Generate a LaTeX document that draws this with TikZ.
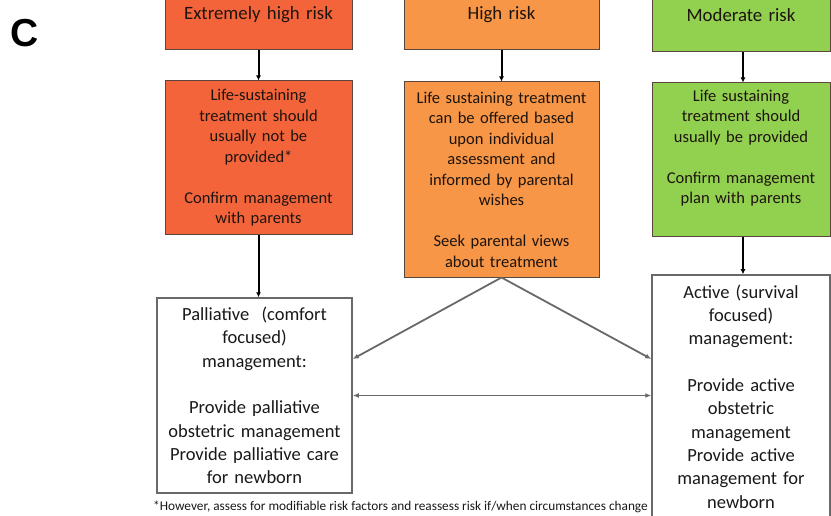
\documentclass[tikz,border=0pt]{standalone}
\usepackage{fontspec}
\setmainfont{Carlito}
\newfontfamily\helvb{Liberation Sans}
\usetikzlibrary{arrows.meta}
\definecolor{redc}{RGB}{244,100,58}
\definecolor{orgc}{RGB}{247,150,70}
\definecolor{grnc}{RGB}{146,208,80}
\definecolor{edgec}{RGB}{90,70,60}
\definecolor{greyc}{RGB}{105,105,105}
\definecolor{txtc}{RGB}{30,20,15}
\tikzset{
  cbox/.style={draw=edgec, line width=1pt, inner sep=0pt, align=center, text=txtc,
    font=\fontsize{16.5}{20.5}\selectfont},
  redbox/.style={cbox, fill=redc},
  orgbox/.style={cbox, fill=orgc},
  grnbox/.style={cbox, fill=grnc},
  headfont/.style={font=\fontsize{18.8}{22}\selectfont},
  wbox/.style={draw=greyc, line width=1.5pt, fill=white, inner sep=0pt, align=center, text=black!90,
    font=\fontsize{18.5}{23.3}\selectfont},
  darrow/.style={draw=black, line width=2pt, -{Latex[length=5pt,width=5pt]}},
  garrow/.style={draw=greyc, line width=1.8pt, -{Latex[length=6pt,width=5pt]}},
  gdarrow/.style={draw=greyc, line width=1.8pt, {Latex[length=6pt,width=5pt]}-{Latex[length=6pt,width=5pt]}},
}
\begin{document}
\begin{tikzpicture}[x=1pt,y=-1pt]
\clip (0,0) rectangle (831,516);
\fill[white] (0,0) rectangle (831,516);
\node[font=\helvb\bfseries\fontsize{39}{39}\selectfont, inner sep=0pt] (lab) at (25,33) {C};
% top row
\node[redbox, headfont, text width=187pt, minimum height=70pt] (a1) at (258.5,15) {Extremely high risk};
\node[orgbox, headfont, text width=195pt, minimum height=70pt] (b1) at (501.5,15) {High risk};
\node[grnbox, headfont, text width=178pt, minimum height=74pt] (c1) at (741,15) {Moderate risk};
% second row
\node[redbox, text width=187pt, minimum height=154pt] (a2) at (258.5,158)
  {Life-sustaining\\treatment should\\usually not be\\provided*\\[20.5pt]Confirm management\\with parents};
\node[orgbox, text width=195pt, minimum height=195pt] (b2) at (501.5,179.5)
  {Life sustaining treatment\\can be offered based\\upon individual\\assessment and\\informed by parental\\wishes\\[20.5pt]Seek parental views\\about treatment};
\node[grnbox, text width=178pt, minimum height=154pt] (c2) at (741,160)
  {Life sustaining\\treatment should\\usually be provided\\[20.5pt]Confirm management\\plan with parents\\\strut};
% bottom row
\node[wbox, text width=195pt, minimum height=195pt] (pall) at (254.5,395.5)
  {Palliative\ \ (comfort\\focused)\\management:\\[23.3pt]Provide palliative\\obstetric management\\Provide palliative care\\for newborn};
\node[wbox, text width=178pt, minimum height=243pt] (act) at (741,396.5)
  {Active (survival\\focused)\\management:\\[23.3pt]Provide active\\obstetric\\management\\Provide active\\management for\\newborn};
\node[font=\fontsize{13.3}{15}\selectfont, inner sep=0pt, text=black!90] (note) at (400.5,507)
  {*However, assess for modifiable risk factors and reassess risk if/when circumstances change};
% connectors
\draw[darrow] (a1.south) -- (a2.north);
\draw[darrow] (b1.south) -- (b2.north);
\draw[darrow] ([xshift=2pt]c1.south) -- ([xshift=2pt]c2.north);
\draw[darrow] (a2.south) -- (a2.south |- pall.north);
\draw[darrow] ([xshift=2pt]c2.south) -- ([xshift=2pt]act.north);
\draw[garrow] (b2.south) -- ([yshift=36.5pt]pall.east);
\draw[garrow] (b2.south) -- ([yshift=37.5pt]act.west);
\draw[gdarrow] (pall.east) -- (pall.east -| act.west);
\end{tikzpicture}
\end{document}
